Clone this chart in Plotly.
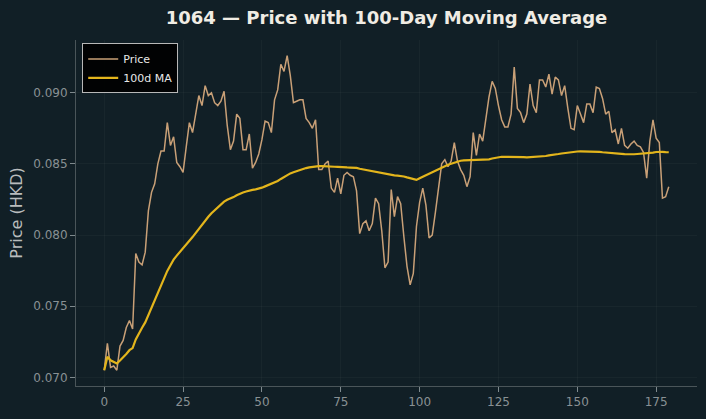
import pandas as pd
import plotly.graph_objects as go

days = list(range(180))
price = [
    0.0705, 0.0724, 0.0707, 0.0708, 0.0705, 0.0722, 0.0726, 0.0735, 0.0740, 0.0734,
    0.0787, 0.0781, 0.0779, 0.0788, 0.0817, 0.0830, 0.0836, 0.0850, 0.0859, 0.0859,
    0.0879, 0.0863, 0.0869, 0.0851, 0.0848, 0.0844, 0.0862, 0.0879, 0.0872, 0.0886,
    0.0898, 0.0891, 0.0905, 0.0898, 0.0900, 0.0893, 0.0891, 0.0894, 0.0901, 0.0877,
    0.0860, 0.0866, 0.0885, 0.0882, 0.0860, 0.0860, 0.0871, 0.0847, 0.0851, 0.0857,
    0.0867, 0.0880, 0.0879, 0.0872, 0.0895, 0.0902, 0.0920, 0.0915, 0.0926, 0.0912,
    0.0893, 0.0894, 0.0895, 0.0895, 0.0882, 0.0879, 0.0875, 0.0881, 0.0846, 0.0846,
    0.0850, 0.0852, 0.0833, 0.0830, 0.0840, 0.0829, 0.0842, 0.0844, 0.0842, 0.0841,
    0.0831, 0.0801, 0.0808, 0.0810, 0.0803, 0.0808, 0.0826, 0.0822, 0.0803, 0.0777,
    0.0781, 0.0832, 0.0813, 0.0827, 0.0822, 0.0799, 0.0778, 0.0765, 0.0773, 0.0806,
    0.0823, 0.0833, 0.0821, 0.0798, 0.0800, 0.0816, 0.0834, 0.0850, 0.0853, 0.0848,
    0.0852, 0.0865, 0.0852, 0.0846, 0.0842, 0.0834, 0.0841, 0.0872, 0.0856, 0.0871,
    0.0866, 0.0881, 0.0897, 0.0908, 0.0903, 0.0891, 0.0881, 0.0876, 0.0876, 0.0885,
    0.0918, 0.0889, 0.0886, 0.0879, 0.0885, 0.0906, 0.0891, 0.0886, 0.0909, 0.0909,
    0.0904, 0.0913, 0.0899, 0.0911, 0.0909, 0.0898, 0.0905, 0.0889, 0.0875, 0.0874,
    0.0891, 0.0885, 0.0879, 0.0892, 0.0892, 0.0886, 0.0904, 0.0903, 0.0896, 0.0885,
    0.0887, 0.0872, 0.0874, 0.0864, 0.0875, 0.0863, 0.0861, 0.0864, 0.0866, 0.0863,
    0.0862, 0.0858, 0.0840, 0.0866, 0.0881, 0.0868, 0.0865, 0.0826, 0.0827, 0.0834,
]
ma_window = 100
ma = pd.Series(price).rolling(ma_window, min_periods=1).mean().tolist()

x_ticks = [0, 25, 50, 75, 100, 125, 150, 175]
y_ticks = [0.070, 0.075, 0.080, 0.085, 0.090]
title = "1064 — Price with 100-Day Moving Average"

BG = "#111f26"
FONT = "DejaVu Sans"

fig = go.Figure()
fig.add_trace(go.Scatter(x=days, y=price, mode="lines", name="Price",
                         line=dict(color="#c9a077", width=1.5)))
fig.add_trace(go.Scatter(x=days, y=ma, mode="lines", name="100d MA",
                         line=dict(color="#e3b51c", width=2.2)))

xmin, xmax = min(days), max(days)
pad_x = (xmax - xmin) * 0.05
ymin, ymax = min(price), max(price)
pad_y = (ymax - ymin) * 0.05

axis_common = dict(
    showgrid=True, gridcolor="rgba(255,255,255,0.03)", gridwidth=1,
    zeroline=False, showline=True, linecolor="#4a5559", linewidth=1,
    ticks="outside", ticklen=5, tickcolor="#7f8a8e",
    tickfont=dict(family=FONT, size=12, color="#899194"),
)

fig.update_layout(
    width=706, height=419,
    margin=dict(l=76, r=9, t=40, b=33),
    paper_bgcolor=BG, plot_bgcolor=BG,
    font=dict(family=FONT),
    title=dict(text="<b>" + title + "</b>", x=(76 + 697) / 2 / 706, xanchor="center",
               y=1 - 18 / 419, yanchor="middle",
               font=dict(family=FONT, size=18, color="#f0ece4")),
    showlegend=True,
    legend=dict(x=0.01, y=0.99, xanchor="left", yanchor="top",
                bgcolor="rgba(0,0,0,0.92)", bordercolor="#b8b8b8", borderwidth=1,
                font=dict(family=FONT, size=11, color="#e8e8e8"),
                itemwidth=30, tracegroupgap=0),
    xaxis=dict(range=[xmin - pad_x, xmax + pad_x], tickvals=x_ticks, **axis_common),
    yaxis=dict(range=[ymin - pad_y, ymax + pad_y], tickvals=y_ticks, tickformat=".3f",
               title=dict(text="Price (HKD)", font=dict(family=FONT, size=16, color="#b9bcbd"),
                          standoff=6),
               **axis_common),
)

fig.write_html("out.html")
